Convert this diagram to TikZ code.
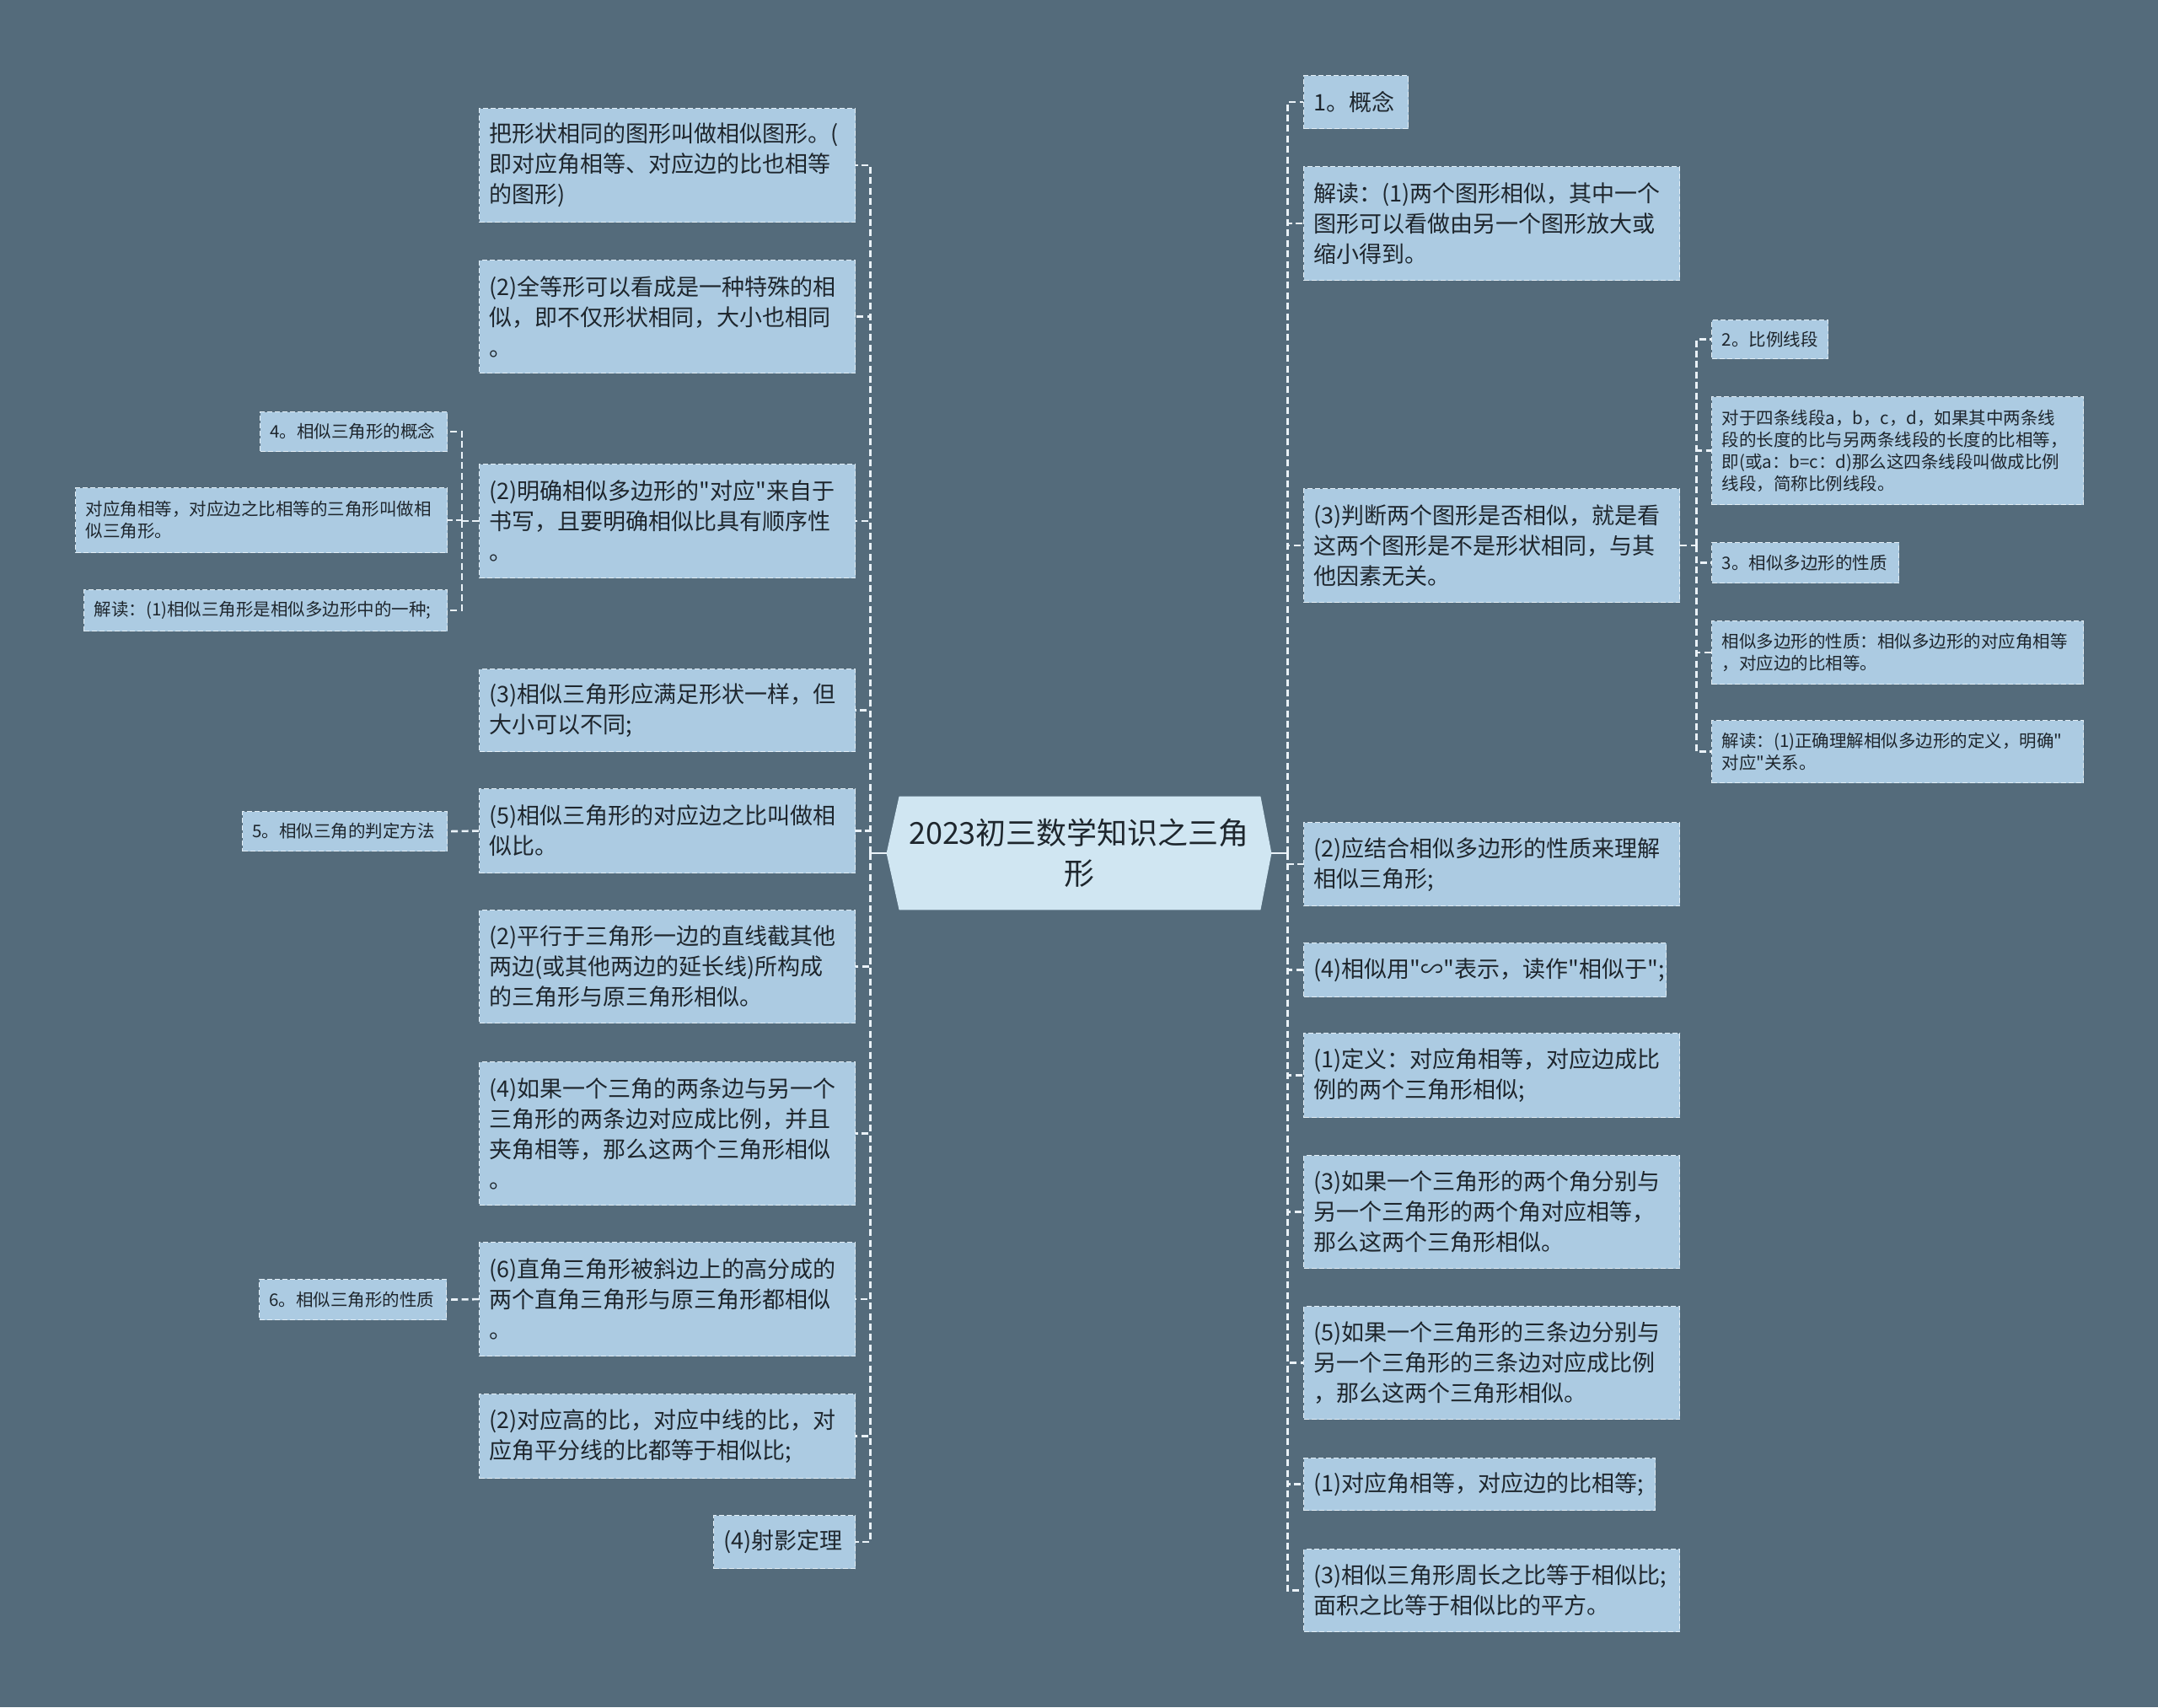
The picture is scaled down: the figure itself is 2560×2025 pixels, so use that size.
\documentclass[tikz,border=0pt]{standalone}
\usepackage{fontspec}
\newfontfamily\cjk{Noto Sans CJK SC}
\usetikzlibrary{calc}
\definecolor{bgc}{HTML}{546B7B}
\definecolor{boxc}{HTML}{ACCBE2}
\definecolor{rootc}{HTML}{D0E6F2}
\definecolor{bordc}{HTML}{E2EEF6}
\definecolor{linec}{HTML}{EAF2F8}
\definecolor{txtc}{HTML}{1E262D}
\pgfdeclarelayer{bglayer}
\pgfsetlayers{bglayer,main}
\begin{document}
\begin{tikzpicture}[x=0.5pt,y=-0.5pt,
  box/.style={draw=bordc, fill=boxc, line width=0.6pt, dash pattern=on 3pt off 1.5pt,
    anchor=north west, inner xsep=6pt, inner ysep=0pt, align=left, text=txtc},
  big/.style={box, font=\cjk\fontsize{13.5pt}{18pt}\selectfont},
  small/.style={box, font=\cjk\fontsize{10.25pt}{13pt}\selectfont},
  sz/.style 2 args={minimum width=#1pt, text width=#1pt-12pt, minimum height=#2pt},
  conn/.style={draw=linec, line width=1.3pt, dash pattern=on 4pt off 2.2pt},
  link/.style={draw=linec, line width=1.3pt},
  rootnode/.style={minimum width=228pt, minimum height=67pt, inner sep=0pt, align=center,
    text=txtc, font=\cjk\fontsize{18pt}{24pt}\selectfont}
]
\useasboundingbox (0,0) rectangle (2560,2025);

% root
\node[rootnode] (root) at (1280,1012) {2023初三数学知识之三角\\形};

% left main column
\node[big, sz={223}{67.5}] (L1) at (568,128) {把形状相同的图形叫做相似图形。(\\即对应角相等、对应边的比也相等\\的图形)};
\node[big, sz={223}{67}] (L2) at (568,308) {(2)全等形可以看成是一种特殊的相\\似，即不仅形状相同，大小也相同\\。};
\node[big, sz={223}{67.5}] (L3) at (568,550) {(2)明确相似多边形的"对应"来自于\\书写，且要明确相似比具有顺序性\\。};
\node[big, sz={223}{49}] (L4) at (568,793) {(3)相似三角形应满足形状一样，但\\大小可以不同;};
\node[big, sz={223}{50}] (L5) at (568,935) {(5)相似三角形的对应边之比叫做相\\似比。};
\node[big, sz={223}{67}] (L6) at (568,1079) {(2)平行于三角形一边的直线截其他\\两边(或其他两边的延长线)所构成\\的三角形与原三角形相似。};
\node[big, sz={223}{85}] (L7) at (568,1259) {(4)如果一个三角的两条边与另一个\\三角形的两条边对应成比例，并且\\夹角相等，那么这两个三角形相似\\。};
\node[big, sz={223}{67.5}] (L8) at (568,1473) {(6)直角三角形被斜边上的高分成的\\两个直角三角形与原三角形都相似\\。};
\node[big, sz={223}{50}] (L9) at (568,1653) {(2)对应高的比，对应中线的比，对\\应角平分线的比都等于相似比;};
\node[big, sz={84}{31.5}] (L10) at (846,1797) {(4)射影定理};

% left sub nodes
\node[small, sz={111}{23.5}] (S1) at (308,488) {4。相似三角形的概念};
\node[small, sz={220.5}{38.5}] (S2) at (89,578) {对应角相等，对应边之比相等的三角形叫做相\\似三角形。};
\node[small, sz={215.5}{24.5}] (S3) at (99,699) {解读：(1)相似三角形是相似多边形中的一种;};
\node[small, sz={121.5}{23.5}] (S4) at (287,962) {5。相似三角的判定方法};
\node[small, sz={111}{24}] (S5) at (307,1517) {6。相似三角形的性质};

% right main column
\node[big, sz={62}{31.5}] (R1) at (1546,89) {1。概念};
\node[big, sz={223}{67.5}] (R2) at (1546,197) {解读：(1)两个图形相似，其中一个\\图形可以看做由另一个图形放大或\\缩小得到。};
\node[big, sz={223}{67.5}] (R3) at (1546,579) {(3)判断两个图形是否相似，就是看\\这两个图形是不是形状相同，与其\\他因素无关。};
\node[big, sz={223}{49.5}] (R4) at (1546,975) {(2)应结合相似多边形的性质来理解\\相似三角形;};
\node[big, sz={215}{32}] (R5) at (1546,1118) {(4)相似用"∽"表示，读作"相似于";};
\node[big, sz={223}{50}] (R6) at (1546,1225) {(1)定义：对应角相等，对应边成比\\例的两个三角形相似;};
\node[big, sz={223}{67}] (R7) at (1546,1370) {(3)如果一个三角形的两个角分别与\\另一个三角形的两个角对应相等，\\那么这两个三角形相似。};
\node[big, sz={223}{67}] (R8) at (1546,1549) {(5)如果一个三角形的三条边分别与\\另一个三角形的三条边对应成比例\\，那么这两个三角形相似。};
\node[big, sz={208.5}{31}] (R9) at (1546,1729) {(1)对应角相等，对应边的比相等;};
\node[big, sz={223}{49}] (R10) at (1546,1837) {(3)相似三角形周长之比等于相似比;\\面积之比等于相似比的平方。};

% right sub nodes
\node[small, sz={69}{23}] (RS1) at (2030,379) {2。比例线段};
\node[small, sz={220.5}{64}] (RS2) at (2030,470) {对于四条线段a，b，c，d，如果其中两条线\\段的长度的比与另两条线段的长度的比相等，\\即(或a：b=c：d)那么这四条线段叫做成比例\\线段，简称比例线段。};
\node[small, sz={111}{24}] (RS3) at (2030,643) {3。相似多边形的性质};
\node[small, sz={220.5}{37.5}] (RS4) at (2030,736) {相似多边形的性质：相似多边形的对应角相等\\，对应边的比相等。};
\node[small, sz={220.5}{37}] (RS5) at (2030,854) {解读：(1)正确理解相似多边形的定义，明确"\\对应"关系。};

% background and root shape
\begin{pgfonlayer}{bglayer}
\fill[bgc] (0,0) rectangle (2560,2025);
\fill[rootc] ($(root.north west)+(15,0)$) -- ($(root.north east)+(-13,0)$) -- (root.east)
  -- ($(root.south east)+(-13,0)$) -- ($(root.south west)+(15,0)$) -- (root.west) -- cycle;
\end{pgfonlayer}

% connectors
\coordinate (jl) at ($(root.west)+(-19,0)$);
\coordinate (jr) at ($(root.east)+(19,0)$);
\draw[link] (root.west) -- (jl);
\draw[link] (root.east) -- (jr);
\foreach \n in {L1,L2,L3,L4,L5,L6,L7,L8,L9,L10} \draw[conn] (jl) |- (\n.east);
\foreach \n in {R1,R2,R3,R4,R5,R6,R7,R8,R9,R10} \draw[conn] (jr) |- (\n.west);

\coordinate (j3) at ($(L3.west)+(-20,0)$);
\draw[conn] (L3.west) -- (j3);
\foreach \n in {S1,S2,S3} \draw[conn] (j3) |- (\n.east);
\draw[conn] (L5.west) -- (S4.east);
\draw[conn] (L8.west) -- (S5.east);

\coordinate (jr3) at ($(R3.east)+(19,0)$);
\draw[conn] (R3.east) -- (jr3);
\foreach \n in {RS1,RS2,RS3,RS4,RS5} \draw[conn] (jr3) |- (\n.west);
\end{tikzpicture}
\end{document}
